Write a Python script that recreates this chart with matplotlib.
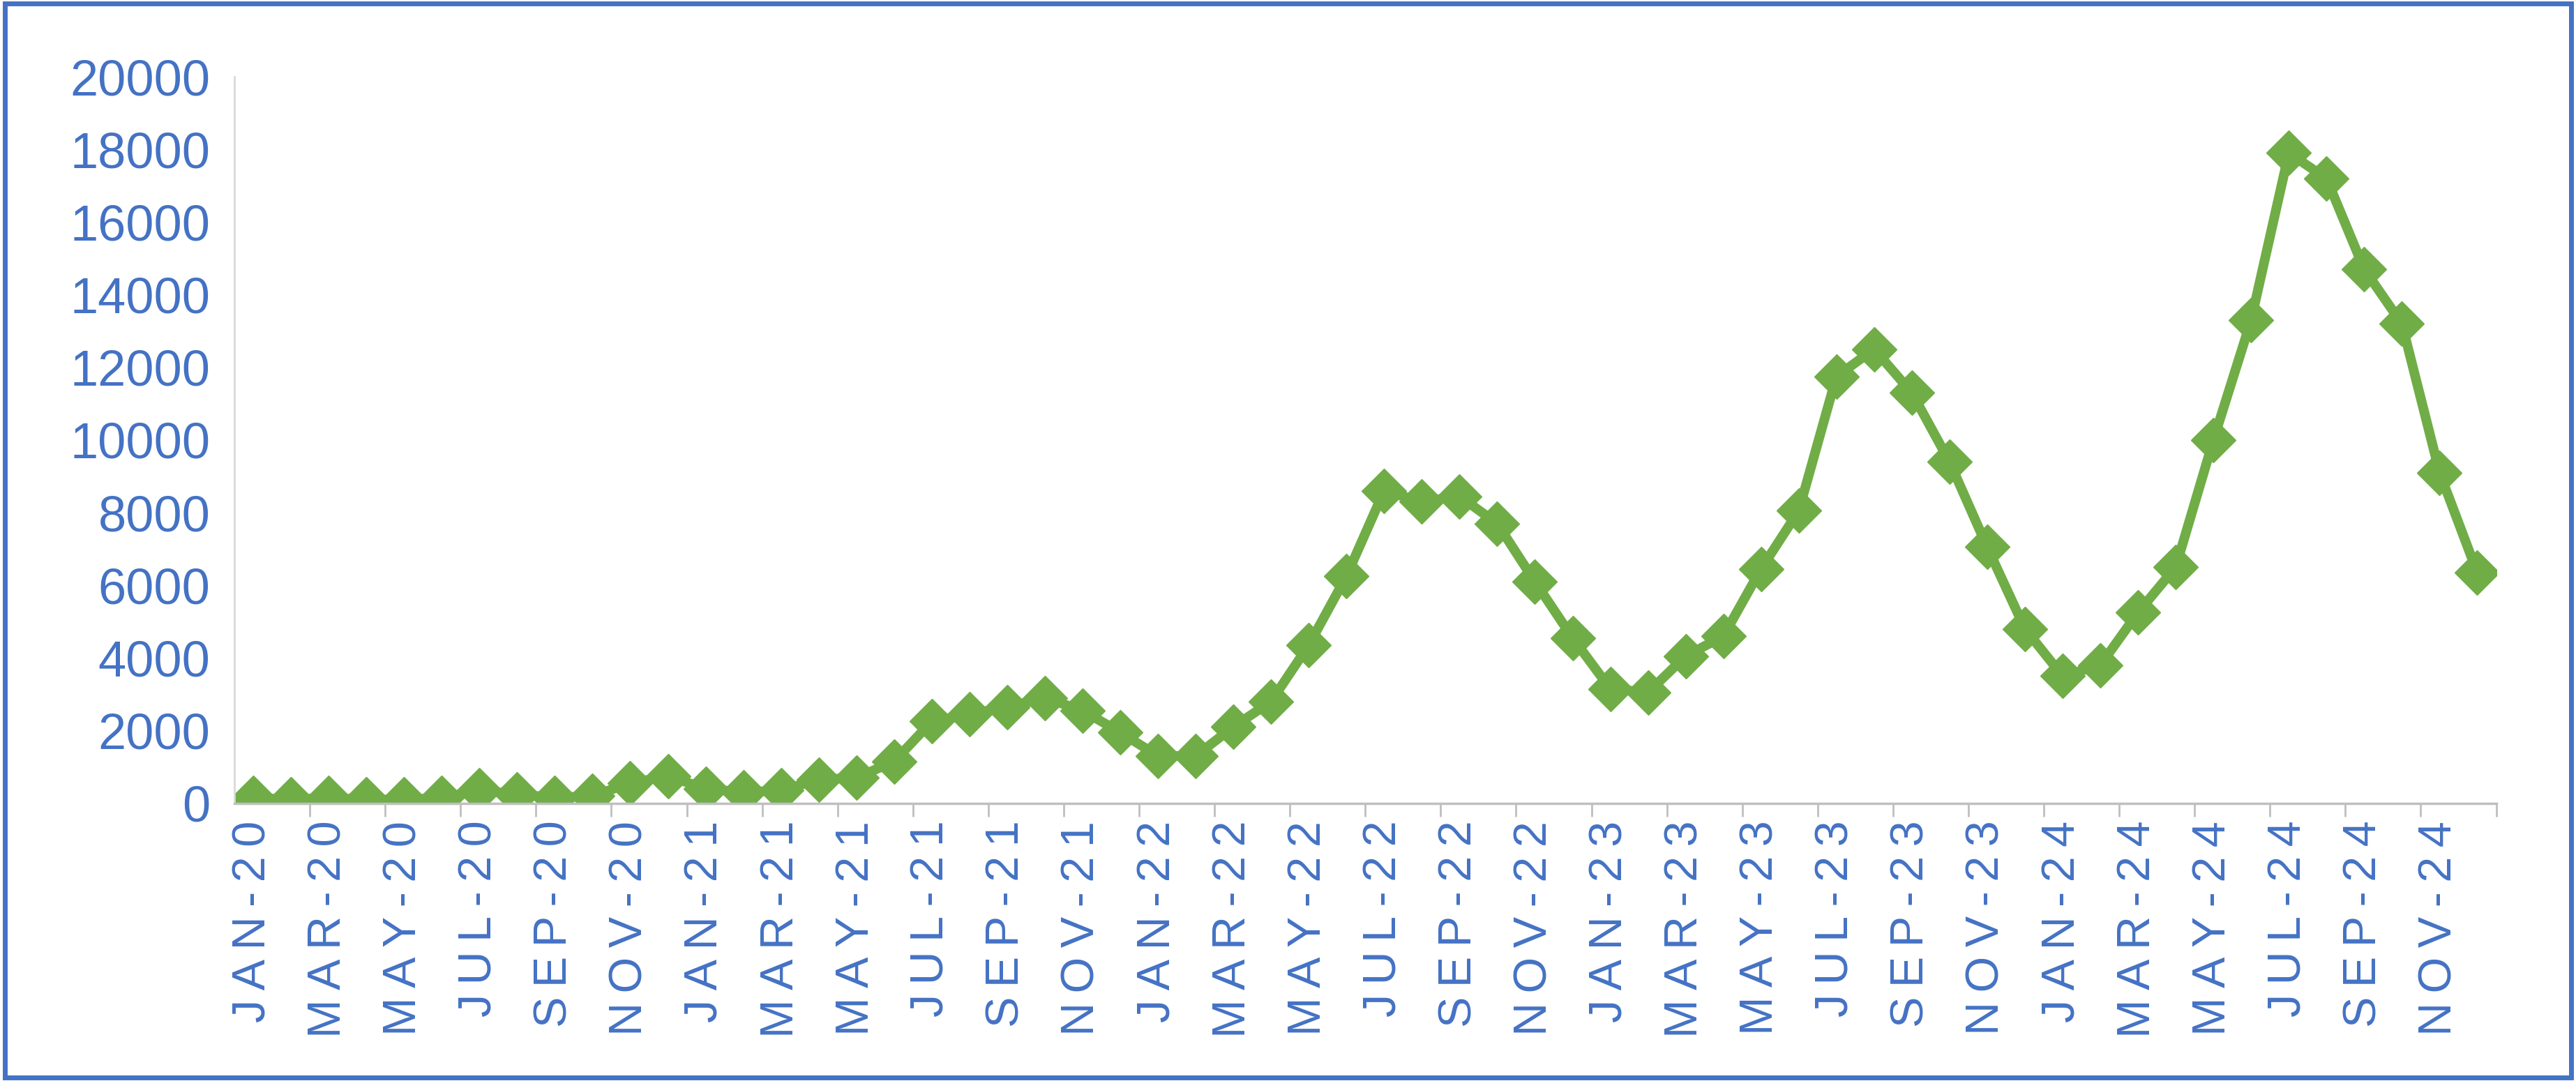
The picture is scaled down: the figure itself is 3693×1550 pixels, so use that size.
import matplotlib
matplotlib.use("Agg")
import matplotlib.pyplot as plt
from matplotlib.patches import Rectangle

months = ["JAN", "FEB", "MAR", "APR", "MAY", "JUN",
          "JUL", "AUG", "SEP", "OCT", "NOV", "DEC"]
years = ["20", "21", "22", "23", "24"]
labels = [m + "-" + y for y in years for m in months]

values = [
    150, 100, 150, 100, 100, 150, 350, 250, 150, 200, 550, 750,
    400, 300, 350, 650, 700, 1150, 2250, 2450, 2650, 2900, 2550, 1950,
    1300, 1300, 2100, 2800, 4350, 6250, 8600, 8300, 8450, 7700, 6100, 4550,
    3150, 3050, 4050, 4600, 6450, 8050, 11750, 12500, 11300, 9400, 7050, 4800,
    3500, 3800, 5250, 6500, 10000, 13300, 17900, 17200, 14700, 13200, 9100, 6350,
]

blue = "#4472C4"
green = "#70AD47"
plt.rcParams['font.family'] = ['Liberation Sans', 'DejaVu Sans']

fig = plt.figure(figsize=(36.93, 15.5), dpi=100)
ax = fig.add_axes([0.091, 0.257, 0.878, 0.672])
x = list(range(len(values)))
ax.plot(x, values, color=green, lw=10, marker='D', markersize=33,
        markerfacecolor=green, markeredgecolor=green)

ax.set_xlim(-0.5, len(values) - 0.5)
ax.set_ylim(0, 20000)
ax.set_yticks(range(0, 20001, 2000))
ax.tick_params(axis='y', length=0, labelsize=52, labelcolor=blue, pad=25)
# spread the letters a little, as in the reference
spaced = ["\u2009".join(lab) for lab in labels]
ax.set_xticks(x[::2])
ax.set_xticklabels(spaced[::2], rotation=90, fontsize=48, color=blue)
ax.tick_params(axis='x', which='major', length=0, pad=18)
ax.set_xticks([i + 0.5 for i in range(1, len(values), 2)], minor=True)
ax.tick_params(axis='x', which='minor', length=14, width=2, color='#BFBFBF')

for s in ['top', 'right']:
    ax.spines[s].set_visible(False)
ax.spines['left'].set_color('#D9D9D9')
ax.spines['left'].set_linewidth(2)
ax.spines['bottom'].set_color('#BFBFBF')
ax.spines['bottom'].set_linewidth(2.5)

fig.patches.append(Rectangle((0.002, 0.003), 0.996, 0.994, transform=fig.transFigure,
                             fill=False, edgecolor=blue, lw=5))
fig.savefig("out.png", dpi=100)
